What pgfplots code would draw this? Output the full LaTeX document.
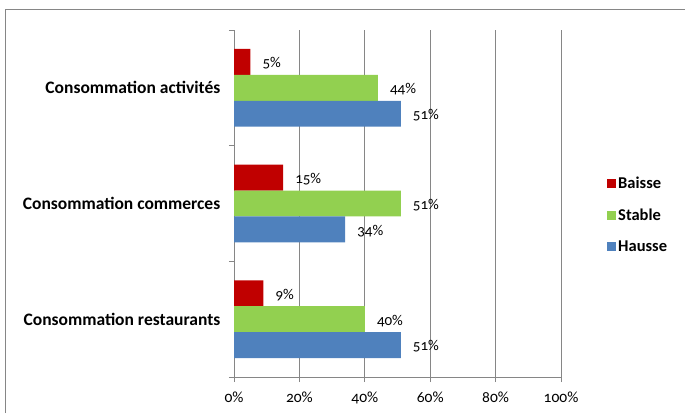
\documentclass[border=0pt]{standalone}
\usepackage{fontspec}
\setmainfont{Carlito}[Numbers=OldStyle]
\usepackage{pgfplots}
\pgfplotsset{compat=1.18}
\definecolor{cRed}{HTML}{C00000}
\definecolor{cGreen}{HTML}{92D050}
\definecolor{cBlue}{HTML}{4F81BD}
\definecolor{cGrid}{HTML}{868686}
\begin{document}
\begin{tikzpicture}[x=1pt,y=1pt]
\path[use as bounding box] (0,0) rectangle (685,413);
\draw[cGrid,line width=1pt] (5,0) -- (5,403) -- (685,403);
\begin{axis}[
  at={(234pt,36pt)}, anchor=south west,
  scale only axis, width=327pt, height=347pt,
  xbar, bar width=0.224,
  xmin=0, xmax=100, ymin=-0.5, ymax=2.5,
  axis x line=bottom, axis y line=left,
  axis line style={-, cGrid, line width=0.8pt},
  xtick={0,20,...,100},
  xticklabel={\pgfmathprintnumber[assume math mode=true]{\tick}\%},
  xmajorgrids, grid style={cGrid, line width=0.8pt},
  xtick align=outside, major tick length=5pt,
  tick style={cGrid, line width=0.8pt},
  ytick={0,1,2},
  yticklabels={Consommation restaurants, Consommation commerces, Consommation activités},
  y tick style={draw=none},
  yticklabel style={font=\fontsize{17.5}{20}\selectfont\bfseries, xshift=-11pt, inner sep=0pt},
  xticklabel style={font=\fontsize{15.5}{18}\selectfont, yshift=-6.5pt},
  extra y ticks={-0.5,0.5,1.5,2.5},
  extra y tick labels={},
  extra y tick style={y tick style={draw=cGrid}, tick align=outside, major tick length=5pt, grid=none},
  nodes near coords={\pgfmathprintnumber[assume math mode=true]{\pgfplotspointmeta}\%},
  nodes near coords align=horizontal,
  every node near coord/.append style={font=\fontsize{15}{18}\selectfont, black, anchor=west, inner sep=0pt, xshift=12pt, yshift=-1.5pt},
  legend style={draw=none, inner sep=0pt, at={(1.1407,0.467)}, anchor=west, font=\fontsize{16.5}{19}\selectfont\bfseries, row sep=14.5pt, legend cell align=left},
  legend image code/.code={\fill[#1] (0pt,-4.5pt) rectangle (9pt,4.5pt);},
]
\addplot[draw=none, fill=cRed, bar shift=0.224] coordinates {(9,0) (15,1) (5,2)};
\addlegendentry{Baisse}
\addplot[draw=none, fill=cGreen, bar shift=0] coordinates {(40,0) (51,1) (44,2)};
\addlegendentry{Stable}
\addplot[draw=none, fill=cBlue, bar shift=-0.224] coordinates {(51,0) (34,1) (51,2)};
\addlegendentry{Hausse}
\end{axis}
\end{tikzpicture}
\end{document}
